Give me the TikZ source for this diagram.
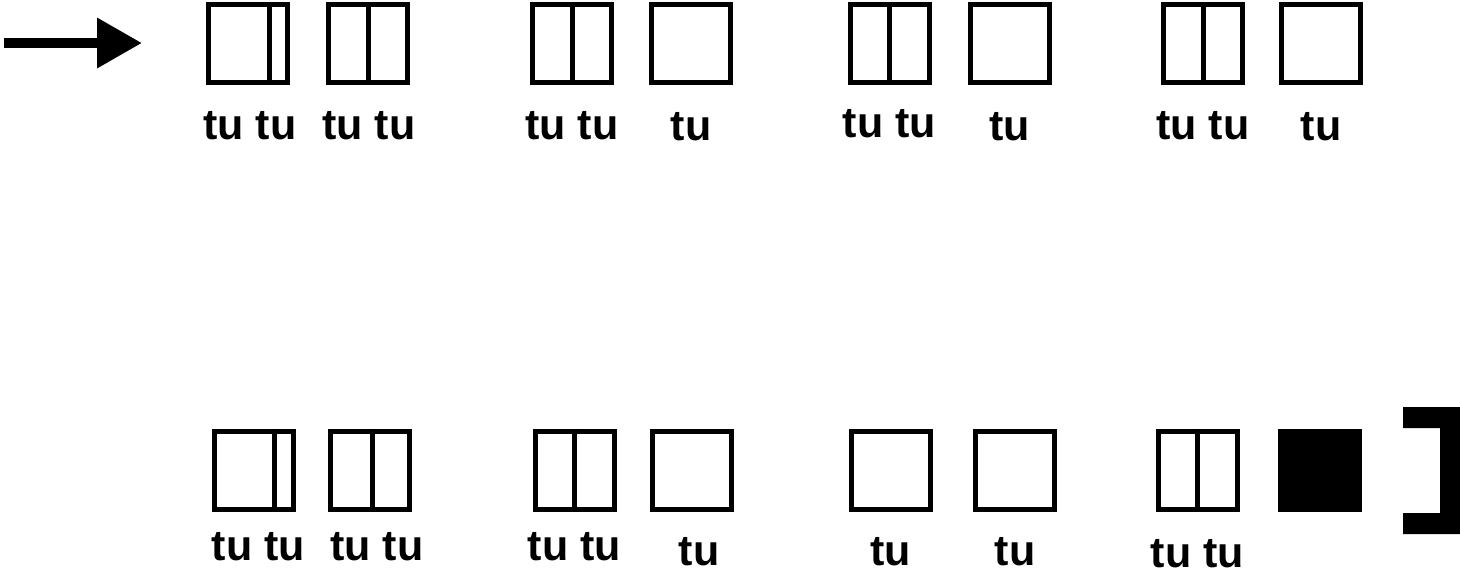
\documentclass[tikz,border=0pt]{standalone}
\usepackage{fontspec}
\setmainfont{Liberation Sans}
\usetikzlibrary{arrows.meta,positioning}

\newcommand\tulabelfont{\bfseries\fontsize{43}{50}\selectfont}

\begin{document}
\begin{tikzpicture}[
    x=1pt, y=-1pt,
    node distance=36pt,
    cell/.style={draw, line width=5pt, minimum width=79pt, minimum height=78pt, inner sep=0pt},
    fullcell/.style={cell, fill=black},
    divider/.style={line width=5pt},
    lbl/.style={anchor=base, inner sep=0pt, font=\tulabelfont},
    pointer/.style={line width=10pt, -{Triangle[length=45pt, width=48pt]}}
]
\useasboundingbox (0,0) rectangle (1460,576);

% Start marker pointing at the first line.
\coordinate (tail) at (4,43);
\coordinate (tip) at (142,43);
\draw[pointer] (tail) -- (tip);

% Top line: four pairs of cells.
\node[cell] (t1a) at (248,43.5) {};
\node[cell, right=36pt of t1a] (t1b) {};
\node[cell] (t2a) at (572,43.5) {};
\node[cell, right=35pt of t2a] (t2b) {};
\node[cell] (t3a) at (889.5,43.5) {};
\node[cell, right=36pt of t3a] (t3b) {};
\node[cell] (t4a) at (1203,43.5) {};
\node[cell, right=34pt of t4a] (t4b) {};

\draw[divider] ([xshift=21pt]t1a.north) -- ([xshift=21pt]t1a.south);
\draw[divider] (t1b.north) -- (t1b.south);
\draw[divider] (t2a.north) -- (t2a.south);
\draw[divider] (t3a.north) -- (t3a.south);
\draw[divider] (t4a.north) -- (t4a.south);

\node[lbl] (lt1a) at ([xshift=2pt,yshift=-54pt]t1a.south) {tu tu};
\node[lbl] (lt1b) at ([xshift=1pt,yshift=-54pt]t1b.south) {tu tu};
\node[lbl] (lt2a) at ([yshift=-54pt]t2a.south) {tu tu};
\node[lbl] (lt2b) at ([yshift=-55pt]t2b.south) {tu};
\node[lbl] (lt3a) at ([yshift=-52pt]t3a.south) {tu tu};
\node[lbl] (lt3b) at ([yshift=-55pt]t3b.south) {tu};
\node[lbl] (lt4a) at ([yshift=-54pt]t4a.south) {tu tu};
\node[lbl] (lt4b) at ([yshift=-55pt]t4b.south) {tu};

% Bottom line: ends with the filled cell.
\node[cell] (b1a) at (253.5,470) {};
\node[cell, right=32.5pt of b1a] (b1b) {};
\node[cell] (b2a) at (574.5,470) {};
\node[cell, right=33.5pt of b2a] (b2b) {};
\node[cell] (b3a) at (890.5,470) {};
\node[cell, right=40.5pt of b3a] (b3b) {};
\node[cell] (b4a) at (1197.5,470) {};
\node[fullcell, right=38pt of b4a] (b4b) {};

\draw[divider] ([xshift=20.5pt]b1a.north) -- ([xshift=20.5pt]b1a.south);
\draw[divider] ([xshift=2pt]b1b.north) -- ([xshift=2pt]b1b.south);
\draw[divider] (b2a.north) -- (b2a.south);
\draw[divider] (b4a.north) -- (b4a.south);

\node[lbl] (lb1a) at ([xshift=5pt,yshift=-48.5pt]b1a.south) {tu tu};
\node[lbl] (lb1b) at ([xshift=7pt,yshift=-48.5pt]b1b.south) {tu tu};
\node[lbl] (lb2a) at ([yshift=-48.5pt]b2a.south) {tu tu};
\node[lbl] (lb2b) at ([xshift=7pt,yshift=-53.5pt]b2b.south) {tu};
\node[lbl] (lb3a) at ([yshift=-53.5pt]b3a.south) {tu};
\node[lbl] (lb3b) at ([yshift=-53.5pt]b3b.south) {tu};
\node[lbl] (lb4a) at ([yshift=-55.5pt]b4a.south) {tu tu};

% Closing bracket at the right edge.
\fill (1403,407) -- (1460,407) -- (1460,534) -- (1403,534) -- (1403,513)
    -- (1440,513) -- (1440,428) -- (1403,428) -- cycle;

\end{tikzpicture}
\end{document}
